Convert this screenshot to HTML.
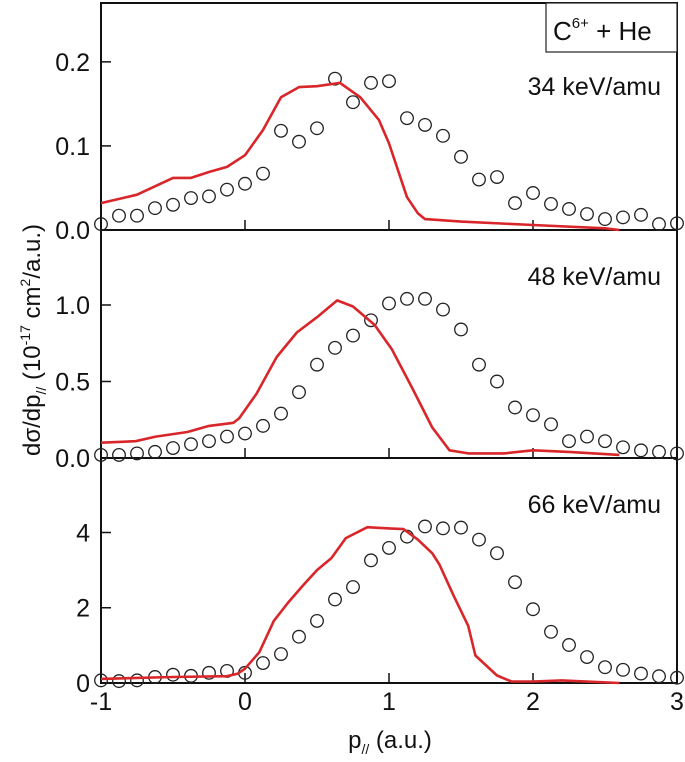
<!DOCTYPE html>
<html><head><meta charset="utf-8"><style>
html,body{margin:0;padding:0;background:#fff;}
svg{display:block;font-family:"Liberation Sans",Arial,sans-serif;}
</style></head><body>
<svg id="chart" width="685" height="762" viewBox="0 0 685 762" xmlns="http://www.w3.org/2000/svg">
<g id="axes"></g>
<g id="marks"></g>
<g>
<rect x="546" y="3" width="131" height="49" fill="#fff" stroke="#222" stroke-width="1.2"/>
<text x="553" y="40" font-size="26" fill="#111">C<tspan font-size="15" dy="-12">6+</tspan><tspan dy="12"> + He</tspan></text>
</g>
<text transform="translate(40,340) rotate(-90)" text-anchor="middle" font-size="24" fill="#111">dσ/dp<tspan font-size="14" dy="6">//</tspan><tspan dy="-6"> (10</tspan><tspan font-size="14" dy="-10">-17</tspan><tspan dy="10"> cm</tspan><tspan font-size="14" dy="-10">2</tspan><tspan dy="10">/a.u.)</tspan></text>
<text x="390" y="748" text-anchor="middle" font-size="24" fill="#111">p<tspan font-size="14" dy="6">//</tspan><tspan dy="-6"> (a.u.)</tspan></text>
</svg>
<script>
const xTicks = [-1, 0, 1, 2, 3];
const xTickLabels = ["-1", "0", "1", "2", "3"];
const energyLabels = ["34 keV/amu", "48 keV/amu", "66 keV/amu"];
const yTicks1 = [0, 0.1, 0.2];
const yTickLabels1 = ["0.0", "0.1", "0.2"];
const yTicks2 = [0, 0.5, 1.0];
const yTickLabels2 = ["0.0", "0.5", "1.0"];
const yTicks3 = [0, 2, 4];
const yTickLabels3 = ["0", "2", "4"];
const expX = [-1,-0.875,-0.75,-0.625,-0.5,-0.375,-0.25,-0.125,0,0.125,0.25,0.375,0.5,0.625,0.75,0.875,1,1.125,1.25,1.375,1.5,1.625,1.75,1.875,2,2.125,2.25,2.375,2.5,2.625,2.75,2.875,3];
const exp1 = [0.007,0.017,0.017,0.026,0.030,0.038,0.040,0.048,0.055,0.067,0.118,0.105,0.121,0.180,0.152,0.175,0.177,0.133,0.125,0.112,0.087,0.060,0.063,0.032,0.044,0.031,0.025,0.019,0.013,0.015,0.018,0.007,0.008];
const exp2 = [0.02,0.02,0.03,0.04,0.065,0.09,0.11,0.14,0.16,0.21,0.29,0.43,0.61,0.72,0.80,0.90,1.01,1.04,1.04,0.97,0.84,0.61,0.50,0.33,0.28,0.22,0.11,0.14,0.11,0.07,0.05,0.04,0.03];
const exp3 = [0.07,0.05,0.07,0.16,0.22,0.19,0.27,0.32,0.27,0.53,0.77,1.23,1.65,2.22,2.55,3.26,3.59,3.89,4.16,4.11,4.13,3.81,3.45,2.68,1.96,1.36,1.01,0.69,0.42,0.35,0.25,0.18,0.14];
const th1X = [-1,-0.75,-0.5,-0.375,-0.25,-0.125,0,0.125,0.25,0.375,0.5,0.66,0.8,0.93,1.0,1.125,1.2,1.25,1.5,2.0,2.5,2.6];
const th1Y = [0.032,0.042,0.062,0.062,0.069,0.075,0.089,0.119,0.158,0.170,0.171,0.175,0.158,0.131,0.103,0.039,0.020,0.013,0.010,0.006,0.002,0.0];
const th2X = [-1,-0.76,-0.62,-0.4,-0.25,-0.08,-0.04,0.08,0.22,0.36,0.5,0.64,0.75,0.9,1.02,1.16,1.3,1.42,1.55,1.8,2.0,2.25,2.6];
const th2Y = [0.10,0.11,0.14,0.17,0.21,0.23,0.26,0.42,0.66,0.82,0.92,1.03,0.99,0.87,0.71,0.46,0.20,0.05,0.03,0.03,0.05,0.04,0.02];
const th3X = [-1,-0.5,-0.125,-0.05,0,0.1,0.2,0.3,0.4,0.5,0.6,0.7,0.85,1.0,1.1,1.2,1.3,1.35,1.45,1.55,1.6,1.75,1.85,2.0,2.2,2.6];
const th3Y = [0.11,0.16,0.18,0.25,0.38,0.82,1.65,2.14,2.58,3.0,3.32,3.85,4.14,4.11,4.09,3.81,3.45,3.15,2.31,1.52,0.73,0.2,0.04,0.04,0.07,0.0];

const NS = "http://www.w3.org/2000/svg";
const L = 101, R = 677;
const xs = v => L + (v + 1) * (R - L) / 4;
const panels = [
  {top:3, bottom:230, ymax:0.27, ticks:yTicks1, labels:yTickLabels1, exp:exp1, thX:th1X, thY:th1Y, name:"top-panel"},
  {top:230, bottom:458, ymax:1.49, ticks:yTicks2, labels:yTickLabels2, exp:exp2, thX:th2X, thY:th2Y, name:"middle-panel"},
  {top:458, bottom:683, ymax:5.98, ticks:yTicks3, labels:yTickLabels3, exp:exp3, thX:th3X, thY:th3Y, name:"bottom-panel"}
];
const axes = document.getElementById("axes");
const marks = document.getElementById("marks");
function mk(tag, attrs, parent){ const e=document.createElementNS(NS,tag); for(const k in attrs) e.setAttribute(k,attrs[k]); parent.appendChild(e); return e; }

panels.forEach((p, pi) => {
  const ys = v => p.bottom - v * (p.bottom - p.top) / p.ymax;
  const g = mk("g", {}, axes);
  
  
  const frame = mk("rect", {x:L, y:p.top, width:R-L, height:p.bottom-p.top, fill:"none", stroke:"#111", "stroke-width":2}, g);
  
  
  p.ticks.forEach((t, i) => {
    const y = ys(t);
    const tk = mk("line", {x1:L, x2:L+10, y1:y, y2:y, stroke:"#111", "stroke-width":1.5}, g);
    
    
    const tl = mk("text", {x:90, y:y+9, "text-anchor":"end", "font-size":25, fill:"#111"}, g);
    tl.textContent = p.labels[i];
    
    
  });
  xTicks.forEach(t => {
    if (t === -1 || t === 3) return;
    const x = xs(t);
    const tk = mk("line", {x1:x, x2:x, y1:p.bottom, y2:p.bottom-10, stroke:"#111", "stroke-width":1.5}, g);
    
    
  });
  const el = mk("text", {x:661, y: p.top + (pi===0 ? 92 : 55), "text-anchor":"end", "font-size":25, fill:"#111"}, g);
  el.textContent = energyLabels[pi];
  
  

  const cg = mk("g", {}, marks);
  
  
  expX.forEach((xv, i) => {
    const c = mk("circle", {cx:xs(xv), cy:ys(p.exp[i]), r:6.3, fill:"none", stroke:"#222", "stroke-width":1.3}, cg);
    
    
  });
  let d = "";
  p.thX.forEach((xv, i) => { d += (i ? "L" : "M") + xs(xv).toFixed(1) + "," + ys(p.thY[i]).toFixed(1); });
  const ln = mk("path", {d:d, fill:"none", stroke:"#d8262a", "stroke-width":2.6, "stroke-linejoin":"round"}, marks);
  
  
});
xTicks.forEach((t, i) => {
  const tl = mk("text", {x:xs(t), y:710, "text-anchor":"middle", "font-size":25, fill:"#111"}, axes);
  tl.textContent = xTickLabels[i];
  
  
});
</script>
</body></html>
